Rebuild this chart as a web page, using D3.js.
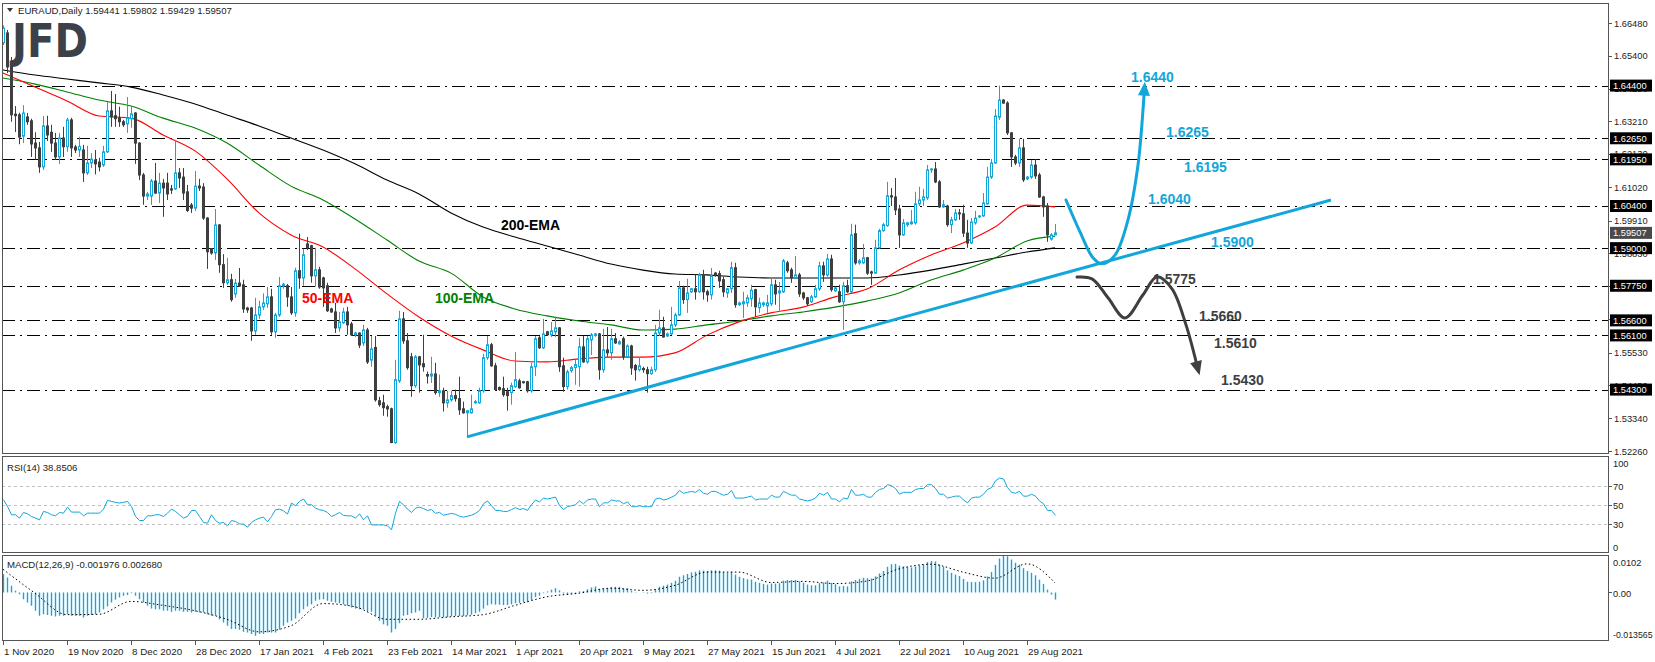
<!DOCTYPE html>
<html><head><meta charset="utf-8">
<script src="https://cdn.jsdelivr.net/npm/d3@7"></script>
<style>
html,body{margin:0;padding:0;background:#fff;}
svg{display:block;font-family:"Liberation Sans",Arial,sans-serif;}
</style></head><body>
<svg id="c" width="1655" height="662"></svg>
<script>
// ---------------- DATA ----------------
const symbolTitle = "EURAUD,Daily";
const lastOHLC = "1.59441 1.59802 1.59429 1.59507";
const opens = [1.6582,1.6615,1.6502,1.6345,1.6343,1.6272,1.6336,1.6323,1.6249,1.6233,
1.6170,1.6306,1.6285,1.6249,1.6203,1.6266,1.6237,1.6326,1.6236,1.6226,
1.6226,1.6150,1.6183,1.6193,1.6186,1.6176,1.6220,1.6356,1.6340,1.6333,
1.6320,1.6313,1.6330,1.6349,1.6249,1.6143,1.6073,1.6073,1.6123,1.6083,
1.6116,1.6116,1.6097,1.6097,1.6150,1.6136,1.6087,1.6043,1.6033,1.6106,
1.6103,1.6000,1.5898,1.5884,1.5977,1.5845,1.5785,1.5795,1.5748,1.5784,
1.5778,1.5701,1.5701,1.5625,1.5678,1.5705,1.5715,1.5738,1.5622,1.5678,
1.5774,1.5775,1.5738,1.5685,1.5825,1.5801,1.5914,1.5908,1.5808,1.5828,
1.5801,1.5775,1.5698,1.5688,1.5635,1.5652,1.5688,1.5648,1.5612,1.5618,
1.5585,1.5628,1.5528,1.5570,1.5393,1.5386,1.5373,1.5366,1.5254,1.5459,
1.5665,1.5592,1.5539,1.5443,1.5539,1.5516,1.5480,1.5475,1.5482,1.5420,
1.5426,1.5386,1.5396,1.5410,1.5400,1.5366,1.5353,1.5353,1.5386,1.5386,
1.5426,1.5536,1.5579,1.5509,1.5437,1.5433,1.5423,1.5420,1.5440,1.5459,
1.5456,1.5456,1.5426,1.5506,1.5602,1.5569,1.5622,1.5612,1.5622,1.5635,
1.5509,1.5440,1.5493,1.5503,1.5506,1.5572,1.5522,1.5595,1.5610,1.5615,
1.5496,1.5562,1.5552,1.5599,1.5582,1.5599,1.5539,1.5575,1.5510,1.5496,
1.5500,1.5496,1.5483,1.5496,1.5618,1.5635,1.5608,1.5615,1.5645,1.5678,
1.5768,1.5729,1.5755,1.5765,1.5755,1.5811,1.5755,1.5745,1.5817,1.5815,
1.5795,1.5751,1.5765,1.5835,1.5712,1.5715,1.5718,1.5732,1.5762,1.5702,
1.5712,1.5708,1.5715,1.5778,1.5751,1.5755,1.5851,1.5828,1.5801,1.5811,
1.5751,1.5735,1.5722,1.5738,1.5765,1.5841,1.5811,1.5864,1.5758,1.5755,
1.5722,1.5775,1.5755,1.5948,1.5851,1.5851,1.5868,1.5821,1.5817,1.5901,
1.5958,1.5975,1.6074,1.6070,1.6030,1.5944,1.5978,1.5981,1.5984,1.6047,
1.6060,1.6067,1.6160,1.6163,1.6120,1.6037,1.6040,1.5978,1.5994,1.6017,
1.6014,1.5950,1.5917,1.5984,1.6004,1.6007,1.6047,1.6136,1.6183,1.6335,
1.6392,1.6382,1.6283,1.6203,1.6183,1.6233,1.6130,1.6136,1.6176,1.6143,
1.6070,1.6040,1.5930,1.59441];
const highs = [1.6640,1.6625,1.6535,1.6372,1.6350,1.6375,1.6349,1.6330,1.6285,1.6253,
1.6339,1.6340,1.6310,1.6283,1.6283,1.6303,1.6333,1.6333,1.6243,1.6270,
1.6243,1.6240,1.6216,1.6226,1.6200,1.6240,1.6385,1.6422,1.6412,1.6370,
1.6326,1.6402,1.6372,1.6352,1.6252,1.6150,1.6087,1.6130,1.6183,1.6150,
1.6130,1.6150,1.6110,1.6260,1.6166,1.6166,1.6110,1.6050,1.6156,1.6130,
1.6116,1.6003,1.5900,1.6030,1.5980,1.5880,1.5868,1.5815,1.5798,1.5834,
1.5795,1.5705,1.5705,1.5735,1.5725,1.5750,1.5771,1.5765,1.5685,1.5804,
1.5785,1.5781,1.5771,1.5835,1.5948,1.5898,1.5937,1.5911,1.5901,1.5838,
1.5805,1.5785,1.5702,1.5718,1.5688,1.5702,1.5705,1.5655,1.5622,1.5620,
1.5645,1.5635,1.5608,1.5608,1.5406,1.5413,1.5380,1.5370,1.5529,1.5692,
1.5688,1.5618,1.5552,1.5545,1.5542,1.5612,1.5490,1.5539,1.5519,1.5480,
1.5436,1.5426,1.5426,1.5430,1.5473,1.5390,1.5362,1.5413,1.5396,1.5436,
1.5549,1.5608,1.5585,1.5519,1.5440,1.5473,1.5436,1.5453,1.5555,1.5466,
1.5459,1.5459,1.5519,1.5608,1.5608,1.5665,1.5625,1.5655,1.5672,1.5638,
1.5536,1.5496,1.5509,1.5529,1.5602,1.5608,1.5608,1.5618,1.5618,1.5618,
1.5632,1.5638,1.5632,1.5618,1.5595,1.5606,1.5580,1.5579,1.5515,1.5536,
1.5506,1.5506,1.5506,1.5645,1.5695,1.5672,1.5620,1.5705,1.5685,1.5791,
1.5775,1.5798,1.5768,1.5812,1.5818,1.5828,1.5762,1.5834,1.5821,1.5825,
1.5805,1.5768,1.5855,1.5851,1.5722,1.5755,1.5745,1.5778,1.5765,1.5735,
1.5722,1.5745,1.5798,1.5795,1.5788,1.5864,1.5858,1.5835,1.5874,1.5818,
1.5755,1.5738,1.5745,1.5778,1.5855,1.5855,1.5881,1.5878,1.5772,1.5778,
1.5788,1.5795,1.5981,1.5978,1.5864,1.5914,1.5871,1.5825,1.5928,1.5964,
1.5984,1.6120,1.6100,1.6133,1.6044,1.5997,1.5987,1.6027,1.6087,1.6104,
1.6097,1.6176,1.6166,1.6186,1.6126,1.6060,1.6044,1.6004,1.6030,1.6030,
1.6044,1.5994,1.6000,1.6024,1.6010,1.6083,1.6170,1.6196,1.6362,1.6440,
1.6395,1.6388,1.6286,1.6210,1.6263,1.6263,1.6140,1.6193,1.6196,1.6150,
1.6074,1.6050,1.5950,1.59802];
const lows = [1.6575,1.6482,1.6320,1.6286,1.6245,1.6249,1.6310,1.6203,1.6193,1.6150,
1.6160,1.6256,1.6220,1.6193,1.6180,1.6203,1.6220,1.6203,1.6216,1.6203,
1.6120,1.6143,1.6166,1.6145,1.6155,1.6170,1.6216,1.6303,1.6303,1.6303,
1.6303,1.6283,1.6300,1.6180,1.6126,1.6044,1.6060,1.6044,1.6080,1.6050,
1.6004,1.6060,1.6080,1.6093,1.6100,1.6060,1.6020,1.6017,1.6023,1.6090,
1.5994,1.5831,1.5878,1.5861,1.5818,1.5768,1.5778,1.5722,1.5735,1.5771,
1.5685,1.5685,1.5592,1.5612,1.5665,1.5695,1.5702,1.5612,1.5602,1.5672,
1.5765,1.5705,1.5678,1.5672,1.5765,1.5775,1.5894,1.5785,1.5772,1.5765,
1.5705,1.5688,1.5685,1.5618,1.5622,1.5648,1.5612,1.5608,1.5605,1.5568,
1.5575,1.5515,1.5506,1.5390,1.5373,1.5343,1.5340,1.5252,1.5250,1.5452,
1.5582,1.5496,1.5406,1.5436,1.5420,1.5490,1.5450,1.5452,1.5413,1.5406,
1.5357,1.5370,1.5390,1.5390,1.5346,1.5350,1.5275,1.5350,1.5383,1.5383,
1.5420,1.5529,1.5506,1.5426,1.5426,1.5406,1.5360,1.5380,1.5436,1.5433,
1.5450,1.5420,1.5420,1.5475,1.5565,1.5565,1.5608,1.5605,1.5605,1.5489,
1.5423,1.5430,1.5486,1.5446,1.5440,1.5519,1.5516,1.5545,1.5605,1.5463,
1.5486,1.5539,1.5529,1.5582,1.5579,1.5529,1.5535,1.5479,1.5460,1.5490,
1.5486,1.5420,1.5479,1.5489,1.5608,1.5602,1.5605,1.5612,1.5638,1.5675,
1.5715,1.5685,1.5751,1.5729,1.5751,1.5729,1.5722,1.5729,1.5805,1.5768,
1.5738,1.5735,1.5751,1.5702,1.5708,1.5668,1.5705,1.5705,1.5672,1.5685,
1.5705,1.5685,1.5708,1.5712,1.5688,1.5751,1.5818,1.5785,1.5798,1.5738,
1.5728,1.5708,1.5718,1.5735,1.5758,1.5788,1.5805,1.5755,1.5755,1.5718,
1.5629,1.5751,1.5751,1.5845,1.5845,1.5848,1.5811,1.5778,1.5815,1.5898,
1.5955,1.5971,1.6040,1.6010,1.5901,1.5941,1.5971,1.5978,1.5978,1.6040,
1.6040,1.6060,1.6150,1.6116,1.6034,1.6034,1.5971,1.5950,1.5990,1.5994,
1.5937,1.5901,1.5914,1.5978,1.6000,1.6004,1.6044,1.6130,1.6180,1.6326,
1.6380,1.6276,1.6170,1.6176,1.6170,1.6120,1.6126,1.6130,1.6130,1.6067,
1.6004,1.5921,1.5925,1.59429];
const closes = [1.6631,1.6502,1.6343,1.6340,1.6269,1.6349,1.6320,1.6246,1.6233,1.6170,
1.6306,1.6276,1.6249,1.6203,1.6266,1.6237,1.6326,1.6233,1.6226,1.6238,
1.6150,1.6183,1.6196,1.6180,1.6170,1.6220,1.6356,1.6336,1.6330,1.6320,
1.6310,1.6333,1.6346,1.6249,1.6143,1.6073,1.6080,1.6123,1.6083,1.6116,
1.6100,1.6080,1.6093,1.6150,1.6133,1.6083,1.6025,1.6033,1.6106,1.6100,
1.6000,1.5888,1.5884,1.5977,1.5845,1.5785,1.5795,1.5729,1.5784,1.5774,
1.5698,1.5695,1.5625,1.5678,1.5705,1.5718,1.5738,1.5622,1.5678,1.5775,
1.5780,1.5738,1.5685,1.5825,1.5801,1.5878,1.5901,1.5808,1.5828,1.5771,
1.5768,1.5692,1.5688,1.5635,1.5655,1.5688,1.5645,1.5612,1.5618,1.5578,
1.5628,1.5522,1.5565,1.5396,1.5380,1.5370,1.5366,1.5254,1.5463,1.5665,
1.5592,1.5503,1.5443,1.5539,1.5512,1.5506,1.5475,1.5482,1.5420,1.5426,
1.5386,1.5396,1.5410,1.5400,1.5363,1.5353,1.5360,1.5366,1.5390,1.5426,
1.5536,1.5579,1.5509,1.5430,1.5430,1.5413,1.5410,1.5443,1.5463,1.5436,
1.5453,1.5426,1.5506,1.5599,1.5569,1.5615,1.5612,1.5625,1.5635,1.5506,
1.5440,1.5489,1.5503,1.5513,1.5572,1.5522,1.5599,1.5612,1.5615,1.5496,
1.5562,1.5552,1.5599,1.5585,1.5589,1.5539,1.5575,1.5502,1.5496,1.5509,
1.5496,1.5483,1.5496,1.5618,1.5635,1.5605,1.5615,1.5645,1.5678,1.5768,
1.5729,1.5751,1.5765,1.5755,1.5811,1.5755,1.5745,1.5808,1.5811,1.5791,
1.5755,1.5765,1.5835,1.5712,1.5718,1.5722,1.5735,1.5760,1.5705,1.5718,
1.5718,1.5718,1.5778,1.5748,1.5758,1.5858,1.5825,1.5801,1.5811,1.5748,
1.5735,1.5715,1.5738,1.5765,1.5841,1.5811,1.5864,1.5762,1.5768,1.5722,
1.5775,1.5755,1.5944,1.5851,1.5858,1.5868,1.5817,1.5817,1.5901,1.5958,
1.5978,1.6074,1.6070,1.6027,1.5944,1.5984,1.5984,1.5987,1.6047,1.6060,
1.6070,1.6160,1.6163,1.6120,1.6037,1.6044,1.5978,1.5994,1.6017,1.6014,
1.5950,1.5917,1.5987,1.6000,1.6007,1.6050,1.6136,1.6183,1.6339,1.6392,
1.6382,1.6283,1.6203,1.6183,1.6233,1.6127,1.6136,1.6176,1.6140,1.6070,
1.6037,1.5944,1.5944,1.59507];

// EMA readings, one value every 8 bars (bar 0, 8, ..., 256) plus the last bar (263)
const emaBars = [0,8,16,24,32,40,48,56,64,72,80,88,96,104,112,120,128,136,144,152,160,168,176,184,192,200,208,216,224,232,240,248,256,263];
const ema200 = [1.6492,1.6475,1.6462,1.6449,1.6435,1.6409,1.6379,1.6342,1.6306,1.6266,1.6226,1.6180,1.6126,1.6080,1.6017,1.5970,1.5937,1.5907,1.5877,1.5847,1.5827,1.5814,1.5811,1.5804,1.5801,1.5801,1.5801,1.5801,1.5811,1.5827,1.5847,1.5867,1.5887,1.5901];
const ema50  = [1.6482,1.6435,1.6389,1.6339,1.6332,1.6276,1.6223,1.6130,1.6017,1.5944,1.5904,1.5831,1.5748,1.5671,1.5608,1.5562,1.5525,1.5522,1.5532,1.5538,1.5538,1.5552,1.5611,1.5655,1.5685,1.5704,1.5738,1.5764,1.5827,1.5877,1.5917,1.5970,1.6043,1.6037];
const ema100 = [1.6465,1.6445,1.6419,1.6392,1.6372,1.6332,1.6299,1.6249,1.6176,1.6106,1.6060,1.5997,1.5927,1.5857,1.5817,1.5738,1.5698,1.5675,1.5658,1.5645,1.5628,1.5631,1.5645,1.5658,1.5675,1.5688,1.5704,1.5724,1.5751,1.5794,1.5827,1.5867,1.5924,1.5940];

const rsi = [55.3,48.2,39.5,39.5,36.0,41.9,40.5,37.7,36.0,34.2,
43.0,41.9,39.5,38.4,41.9,41.2,47.5,42.3,42.3,42.3,
38.4,41.2,41.2,41.2,41.2,45.4,54.6,53.5,52.5,51.8,
52.5,53.5,48.2,37.7,33.5,33.5,38.4,38.4,39.5,39.5,
37.7,41.2,45.4,43.0,39.5,36.0,37.7,44.0,44.0,37.7,
31.4,30.7,39.5,33.5,30.7,31.4,27.9,33.5,32.5,30.0,
29.6,26.5,31.4,34.2,36.0,37.0,32.1,37.7,44.7,45.4,
43.7,40.2,51.8,48.9,53.5,56.0,50.0,50.0,46.5,44.7,
44.0,41.9,37.7,39.5,41.9,38.8,38.4,38.4,36.0,40.5,
34.2,38.4,28.9,28.9,28.9,28.9,28.0,23.7,41.2,53.5,
50.0,45.4,41.9,46.5,47.5,46,44,45,41,42,
39,40,41,40,38,37,38,39,41,44,
51,54,49,44,44,43,43,45,47,45,
46,44,50,55,53,57,56,57,58,49,
45,48,49,50,54,51,55,56,56,48,
52,52,55,54,54,51,53,48,48,49,
48,48,48,56,57,55,56,58,60,65,
62,63,64,63,66,62,61,64,64,62,
60,61,65,57,57,57,58,59,55,56,
56,56,60,58,58,64,62,60,60,56,
55,54,55,57,62,60,63,56,56,53,
57,56,66,60,60,61,58,58,63,66,
67,71,70,67,61,63,63,63,66,67,
67,71,71,67,61,61,57,58,59,59,
55,52,57,58,58,61,66,68,75,78,
77,68,63,62,64,59,59,61,59,54,
51,44,44,38.85];
const rsiLevels = [70,50,30];
const rsiTicks = ["100","70","50","30","0"];
const rsiTickVals = [100,70,50,30,0];

const macd = [0.0051,0.0042,0.0019,0.0005,-0.0005,-0.0019,-0.0028,-0.0037,-0.0051,-0.0065,
-0.0061,-0.0063,-0.0065,-0.0067,-0.0065,-0.0065,-0.0061,-0.0065,-0.0065,-0.0065,
-0.0070,-0.0065,-0.0063,-0.0061,-0.0056,-0.0047,-0.0039,-0.0028,-0.0020,-0.0014,
-0.0009,-0.0007,-0.0002,-0.0009,-0.0019,-0.0028,-0.0037,-0.0045,-0.0047,-0.0047,
-0.0051,-0.0051,-0.0054,-0.0051,-0.0051,-0.0054,-0.0054,-0.0056,-0.0054,-0.0056,
-0.0056,-0.0061,-0.0065,-0.0065,-0.0075,-0.0084,-0.0093,-0.0102,-0.0102,-0.0104,
-0.0110,-0.0112,-0.0116,-0.0121,-0.0116,-0.0116,-0.0112,-0.0112,-0.0112,-0.0104,
-0.0093,-0.0084,-0.0079,-0.0073,-0.0058,-0.0047,-0.0039,-0.0033,-0.0023,-0.0020,
-0.0019,-0.0023,-0.0026,-0.0028,-0.0030,-0.0033,-0.0037,-0.0042,-0.0045,-0.0047,
-0.0047,-0.0054,-0.0054,-0.0065,-0.0079,-0.0089,-0.0093,-0.0112,-0.0102,-0.0086,
-0.0065,-0.0063,-0.0058,-0.0056,-0.0051,-0.0072,-0.0071,-0.0069,-0.0070,-0.0069,
-0.0070,-0.0069,-0.0067,-0.0066,-0.0066,-0.0066,-0.0064,-0.0062,-0.0058,-0.0054,
-0.0045,-0.0036,-0.0033,-0.0034,-0.0034,-0.0035,-0.0035,-0.0033,-0.0030,-0.0029,
-0.0027,-0.0027,-0.0021,-0.0013,-0.0009,-0.0002,0.0003,0.0008,0.0012,0.0006,
-0.0003,-0.0005,-0.0004,-0.0003,0.0003,0.0004,0.0009,0.0014,0.0017,0.0010,
0.0011,0.0012,0.0015,0.0016,0.0016,0.0012,0.0012,0.0005,0.0001,0.0000,
-0.0001,-0.0003,-0.0002,0.0008,0.0016,0.0019,0.0022,0.0027,0.0033,0.0044,
0.0048,0.0052,0.0056,0.0058,0.0062,0.0061,0.0060,0.0062,0.0062,0.0061,
0.0057,0.0055,0.0058,0.0050,0.0044,0.0040,0.0037,0.0036,0.0030,0.0027,
0.0024,0.0022,0.0025,0.0025,0.0026,0.0033,0.0035,0.0035,0.0035,0.0031,
0.0027,0.0022,0.0020,0.0020,0.0026,0.0028,0.0033,0.0027,0.0023,0.0017,
0.0018,0.0017,0.0031,0.0035,0.0038,0.0041,0.0040,0.0039,0.0045,0.0053,
0.0060,0.0072,0.0079,0.0080,0.0075,0.0073,0.0071,0.0070,0.0073,0.0076,
0.0078,0.0085,0.0088,0.0087,0.0078,0.0072,0.0062,0.0055,0.0050,0.0046,
0.0038,0.0030,0.0029,0.0029,0.0030,0.0034,0.0045,0.0057,0.0077,0.0095,
0.0103,0.0101,0.0092,0.0083,0.0078,0.0068,0.0060,0.0055,0.0048,0.0036,
0.0024,0.0008,-0.0006,-0.001976];
const signalBars = emaBars;
const signal = [0.0065,-0.0002,-0.0062,-0.0061,-0.0025,-0.0036,-0.0051,-0.0075,-0.0110,-0.0093,-0.0031,-0.0040,-0.0075,-0.0075,-0.0068,-0.0062,-0.0036,-0.0012,-0.0002,0.0012,0.0006,0.0020,0.0057,0.0057,0.0028,0.0031,0.0025,0.0032,0.0066,0.0079,0.0057,0.0040,0.0080,0.002680];
const macdTicks = ["0.0102","0.00","-0.013565"];
const macdTickVals = [0.0102,0,-0.013565];

const priceTicks = [1.66480,1.65400,1.64290,1.63210,1.62130,1.61020,1.59910,1.58830,1.57750,1.56640,1.55530,1.54450,1.53340,1.52260];
const levels = [1.6440,1.6265,1.6195,1.6040,1.5900,1.5775,1.5660,1.5610,1.5430];
const levelText = ["1.64400","1.62650","1.61950","1.60400","1.59000","1.57750","1.56600","1.56100","1.54300"];

const dateBars = [0,16,32,48,64,80,96,112,128,144,160,176,192,208,224,240,256];
const dateLabels = ["1 Nov 2020","19 Nov 2020","8 Dec 2020","28 Dec 2020","17 Jan 2021","4 Feb 2021","23 Feb 2021","14 Mar 2021","1 Apr 2021","20 Apr 2021","9 May 2021","27 May 2021","15 Jun 2021","4 Jul 2021","22 Jul 2021","10 Aug 2021","29 Aug 2021"];

// trendline (bar index, price)
const trendBars = [116, 332];
const trendPrices = [1.5273, 1.6060];
// scenario paths (bar index, price)
const upPathBars = [265.75,269.25,272.5,274.75,278,281.25,283.75,285,285.3];
const upPathPrices = [1.6060,1.5954,1.5868,1.5848,1.5877,1.5994,1.6176,1.6359,1.6420];
const downPathBars = [268.5,272.25,276.25,280.5,285,288.5,292.25,295.75,298.5];
const downPathPrices = [1.5804,1.5798,1.5735,1.5668,1.5745,1.5805,1.5765,1.5645,1.5510];
const upLabels = ["1.6440","1.6265","1.6195","1.6040","1.5900"];
const upLabelVals = [1.6440,1.6265,1.6195,1.6040,1.5900];
const upLabelBars = [282,290.75,295.25,286.25,302];
const upLabelShift = [-9,-6,8,-7,-6];
const downLabels = ["1.5775","1.5660","1.5610","1.5430"];
const downLabelVals = [1.5775,1.5660,1.5610,1.5430];
const downLabelBars = [287.5,299,302.75,304.5];
const downLabelShift = [-7,-4,8,-10];
const emaNames = ["200-EMA","50-EMA","100-EMA"];
const emaNameBars = [124.5,74.75,108];
const emaNamePrices = [1.5977,1.5735,1.5735];

// ---------------- DRAW ----------------
const svg = d3.select('#c');
const CYAN = "#12a6da", DARK = "#3f3f3f";
const x = d3.scaleLinear().domain([0,401.5]).range([3,1609]);
const y = d3.scaleLinear().domain([1.52260,1.66480]).range([451,23]);
const yR = d3.scaleLinear().domain([0,100]).range([552.5,457]);
const yM = d3.scaleLinear().domain([-0.013565,0.0102]).range([641,556]);
const n = closes.length;
const AXF = 9.3;

svg.append('rect').attr('width',1655).attr('height',662).attr('fill','#fff');

const defs = svg.append('defs');
defs.append('clipPath').attr('id','mainClip').append('rect').attr('x',2).attr('y',3).attr('width',1607).attr('height',451);

const main = svg.append('g').attr('clip-path','url(#mainClip)');

// JFD logo
svg.append('text').attr('x',12).attr('y',57).attr('font-family','"DejaVu Sans",sans-serif')
  .attr('font-weight','bold').attr('font-size',47).attr('fill','#3c4149')
  .attr('textLength',76).attr('lengthAdjust','spacingAndGlyphs').text('JFD');

// level lines
main.selectAll('line.lvl').data(levels).join('line').attr('class','lvl')
  .attr('x1',2).attr('x2',1609).attr('y1',d=>Math.round(y(d))+0.5).attr('y2',d=>Math.round(y(d))+0.5)
  .attr('stroke','#000').attr('stroke-width',1).attr('stroke-dasharray','13,5,2,5');

// EMAs
const emaLine = (vals)=> d3.line().x((d,i)=>x(emaBars[i])).y(d=>y(d)).curve(d3.curveMonotoneX)(vals);
main.append('path').attr('d',emaLine(ema200)).attr('fill','none').attr('stroke','#000').attr('stroke-width',1.1);
main.append('path').attr('d',emaLine(ema100)).attr('fill','none').attr('stroke','#008000').attr('stroke-width',1.1);
main.append('path').attr('d',emaLine(ema50)).attr('fill','none').attr('stroke','#ff0000').attr('stroke-width',1.1);

// candles
const cg = main.append('g');
for(let i=0;i<n;i++){
  const xc = Math.round(x(i));
  const up = closes[i] >= opens[i];
  const col = up ? CYAN : DARK;
  cg.append('line').attr('x1',xc+0.5).attr('x2',xc+0.5).attr('y1',y(highs[i])).attr('y2',y(lows[i]))
    .attr('stroke',col).attr('stroke-width',1);
  const top = y(Math.max(opens[i],closes[i])), bot = y(Math.min(opens[i],closes[i]));
  cg.append('rect').attr('x',xc-0.5).attr('y',top).attr('width',2).attr('height',Math.max(0.8,bot-top))
    .attr('fill',up?'#fff':DARK).attr('stroke',col).attr('stroke-width',1);
}

// trendline
main.append('line').attr('x1',x(trendBars[0])).attr('y1',y(trendPrices[0])).attr('x2',x(trendBars[1])).attr('y2',y(trendPrices[1]))
  .attr('stroke',CYAN).attr('stroke-width',3);

// scenario paths with arrowheads
function arrowPath(bars, prices, color){
  const pts = bars.map((b,i)=>[x(b),y(prices[i])]);
  main.append('path').attr('d',d3.line().curve(d3.curveCatmullRom.alpha(0.5))(pts))
    .attr('fill','none').attr('stroke',color).attr('stroke-width',3).attr('stroke-linecap','round');
  const a = pts[pts.length-2], b = pts[pts.length-1];
  const ang = Math.atan2(b[1]-a[1], b[0]-a[0]);
  const L = 14, Wd = 6;
  const tip = [b[0]+Math.cos(ang)*10, b[1]+Math.sin(ang)*10];
  const base = [tip[0]-Math.cos(ang)*L, tip[1]-Math.sin(ang)*L];
  const p1 = [base[0]+Math.sin(ang)*Wd, base[1]-Math.cos(ang)*Wd];
  const p2 = [base[0]-Math.sin(ang)*Wd, base[1]+Math.cos(ang)*Wd];
  main.append('path').attr('d',`M${tip}L${p1}L${p2}Z`).attr('fill',color);
}
arrowPath(upPathBars, upPathPrices, CYAN);
arrowPath(downPathBars, downPathPrices, DARK);

// annotation labels
main.selectAll('text.ul').data(upLabels).join('text').attr('class','ul')
  .attr('x',(d,i)=>x(upLabelBars[i])).attr('y',(d,i)=>y(upLabelVals[i])+upLabelShift[i]+5)
  .attr('font-size',14).attr('font-weight','bold').attr('fill',CYAN).text(d=>d);
main.selectAll('text.dl').data(downLabels).join('text').attr('class','dl')
  .attr('x',(d,i)=>x(downLabelBars[i])).attr('y',(d,i)=>y(downLabelVals[i])+downLabelShift[i]+5)
  .attr('font-size',14).attr('font-weight','bold').attr('fill',DARK).text(d=>d);
const emaCols = ['#000','#ff0000','#008000'];
main.selectAll('text.en').data(emaNames).join('text').attr('class','en')
  .attr('x',(d,i)=>x(emaNameBars[i])).attr('y',(d,i)=>y(emaNamePrices[i])+5)
  .attr('font-size',14).attr('font-weight','bold').attr('fill',(d,i)=>emaCols[i]).text(d=>d);

// header
svg.append('path').attr('d','M7,8L13,8L10,12Z').attr('fill','#333');
svg.append('text').attr('x',18).attr('y',14).attr('font-size',9.6).attr('fill','#222')
  .text(symbolTitle + '  ' + lastOHLC);

// RSI panel
const rg = svg.append('g');
rg.selectAll('line.rl').data(rsiLevels).join('line').attr('class','rl')
  .attr('x1',2).attr('x2',1609).attr('y1',d=>Math.round(yR(d))+0.5).attr('y2',d=>Math.round(yR(d))+0.5)
  .attr('stroke','#c0c0c0').attr('stroke-dasharray','3,3');
rg.append('path').attr('d',d3.line().x((d,i)=>x(i)+0.5).y(d=>yR(d))(rsi))
  .attr('fill','none').attr('stroke',CYAN).attr('stroke-width',1);
rg.append('text').attr('x',7).attr('y',471).attr('font-size',9.6).attr('fill','#222').text('RSI(14) 38.8506');

// MACD panel
const mg = svg.append('g');
mg.selectAll('line.h').data(macd).join('line').attr('class','h')
  .attr('x1',(d,i)=>x(i)+0.5).attr('x2',(d,i)=>x(i)+0.5).attr('y1',yM(0)).attr('y2',d=>yM(d))
  .attr('stroke',CYAN).attr('stroke-width',1.4);
mg.append('path').attr('d',d3.line().x((d,i)=>x(signalBars[i])).y(d=>yM(d)).curve(d3.curveMonotoneX)(signal))
  .attr('fill','none').attr('stroke','#000').attr('stroke-width',1).attr('stroke-dasharray','1.5,2.5');
mg.append('text').attr('x',7).attr('y',568).attr('font-size',9.6).attr('fill','#222').text('MACD(12,26,9) -0.001976 0.002680');

// frames
const frame = svg.append('g').attr('fill','none').attr('stroke','#555').attr('stroke-width',1);
frame.append('rect').attr('x',2.5).attr('y',3.5).attr('width',1606).attr('height',450);
frame.append('rect').attr('x',2.5).attr('y',456.5).attr('width',1606).attr('height',96);
frame.append('rect').attr('x',2.5).attr('y',555.5).attr('width',1606).attr('height',85);

// price axis
const ax = svg.append('g').attr('font-size',AXF).attr('fill','#222');
ax.selectAll('line.pt').data(priceTicks).join('line').attr('class','pt')
  .attr('x1',1609).attr('x2',1612).attr('y1',d=>Math.round(y(d))+0.5).attr('y2',d=>Math.round(y(d))+0.5).attr('stroke','#555');
ax.selectAll('text.pt').data(priceTicks).join('text').attr('class','pt')
  .attr('x',1614).attr('y',d=>y(d)+3.5).text(d=>d.toFixed(5));
// level boxes
const lb = svg.append('g');
lb.selectAll('rect').data(levels).join('rect').attr('x',1610).attr('y',d=>y(d)-6).attr('width',42).attr('height',12).attr('fill','#000');
lb.selectAll('text').data(levelText).join('text').attr('x',1613).attr('y',(d,i)=>y(levels[i])+3.5)
  .attr('font-size',AXF).attr('fill','#fff').text(d=>d);
// current price box
const lastC = closes[n-1];
svg.append('rect').attr('x',1610).attr('y',y(lastC)-6).attr('width',42).attr('height',12).attr('fill','#4a4a4a');
svg.append('text').attr('x',1613).attr('y',y(lastC)+3.5).attr('font-size',AXF).attr('fill','#fff').text(lastC.toFixed(5));

// RSI / MACD axes
const rsiLabelY = [466.5,489.5,508.5,527.5,550.5];
ax.selectAll('text.rt').data(rsiTicks).join('text').attr('class','rt')
  .attr('x',1613).attr('y',(d,i)=>rsiLabelY[i]).text(d=>d);
ax.selectAll('line.rt').data(rsiTickVals.slice(1,4)).join('line').attr('class','rt')
  .attr('x1',1609).attr('x2',1612).attr('y1',d=>Math.round(yR(d))+0.5).attr('y2',d=>Math.round(yR(d))+0.5).attr('stroke','#555');
const macdLabelY = [565.5,596.5,637.5];
ax.selectAll('text.mt').data(macdTicks).join('text').attr('class','mt')
  .attr('x',1613).attr('y',(d,i)=>macdLabelY[i]).attr('font-size',(d,i)=>i===2?8.8:AXF).text(d=>d);
ax.append('line').attr('x1',1609).attr('x2',1612).attr('y1',Math.round(yM(0))+0.5).attr('y2',Math.round(yM(0))+0.5).attr('stroke','#555');

// date axis
ax.selectAll('line.dt').data(dateBars).join('line').attr('class','dt')
  .attr('x1',d=>Math.round(x(d))+0.5).attr('x2',d=>Math.round(x(d))+0.5).attr('y1',641).attr('y2',645).attr('stroke','#555');
ax.selectAll('text.dt').data(dateLabels).join('text').attr('class','dt')
  .attr('x',(d,i)=>x(dateBars[i])+1).attr('y',655).attr('font-size',9.8).text(d=>d);
</script>
</body></html>
